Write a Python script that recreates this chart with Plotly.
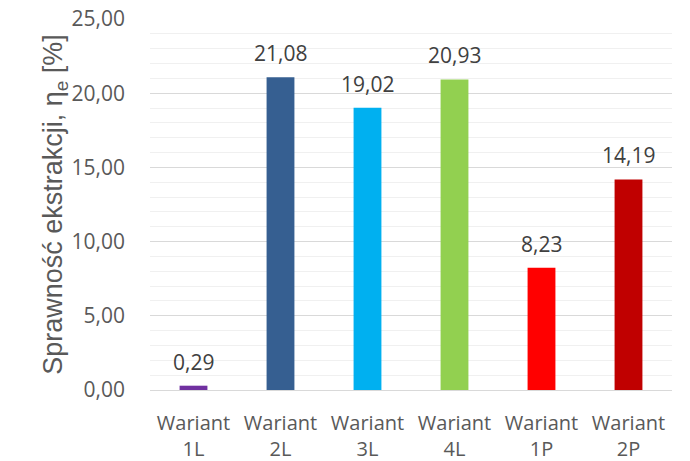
import plotly.graph_objects as go

categories = ["Wariant<br>1L", "Wariant<br>2L", "Wariant<br>3L", "Wariant<br>4L", "Wariant<br>1P", "Wariant<br>2P"]
values = [0.29, 21.08, 19.02, 20.93, 8.23, 14.19]
colors = ["#7030A0", "#365F91", "#00B0F0", "#92D050", "#FF0000", "#C00000"]
y_ticks = [0, 5, 10, 15, 20, 25]

font_family = "Open Sans"

fig = go.Figure(
    go.Bar(
        x=categories,
        y=values,
        marker=dict(color=colors, line=dict(width=0)),
        hoverinfo="x+y",
    )
)

for c, v in zip(categories, values):
    fig.add_annotation(
        x=c,
        y=v,
        text=f"{v:.2f}".replace(".", ","),
        showarrow=False,
        yanchor="bottom",
        yshift=8,
        font=dict(size=21, color="#404040", family=font_family),
    )

fig.update_layout(
    width=690,
    height=461,
    margin=dict(l=150, r=18, t=19, b=71),
    paper_bgcolor="white",
    plot_bgcolor="white",
    separators=",.",
    bargap=0.68,
    showlegend=False,
    font=dict(family=font_family, color="#595959"),
)

fig.update_xaxes(
    tickfont=dict(size=20, color="#595959", family=font_family),
    showline=True,
    linecolor="#D9D9D9",
    linewidth=1,
    ticks="",
    ticklabelstandoff=15,
    automargin=False,
)

fig.update_yaxes(
    range=[0, 25],
    tickvals=y_ticks,
    tickformat=".2f",
    tickfont=dict(size=21, color="#595959", family=font_family),
    showgrid=True,
    gridcolor="#D9D9D9",
    gridwidth=1,
    zeroline=False,
    minor=dict(dtick=1, showgrid=True, gridcolor="#F0F0F0", gridwidth=1),
    title=dict(
        text="Sprawność ekstrakcji, η<sub>e</sub> [%]",
        font=dict(size=27, color="#595959", family="Liberation Sans"),
        standoff=0,
    ),
    ticklabelstandoff=24,
    automargin=False,
)

fig.write_html("out.html")
